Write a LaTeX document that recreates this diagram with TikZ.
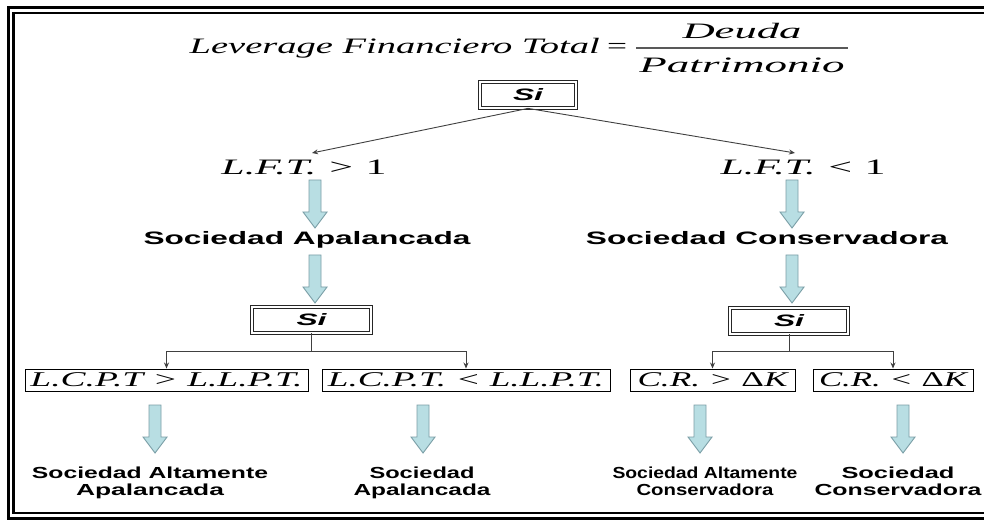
\documentclass[tikz,border=0pt]{standalone}
\usepackage{fontspec}
\usepackage{graphicx}
\setmainfont{Liberation Serif}
\setsansfont{Liberation Sans}
\usetikzlibrary{arrows.meta}
\newdimen\pxu \pxu=0.75pt
\newcommand\hw[2]{\resizebox{#1\pxu}{\height}{#2}}
\definecolor{arrowfill}{HTML}{B8DEE3}
\definecolor{arrowline}{HTML}{7A9EA6}
\newcommand\blockarr[3]{\draw[blockarrow] (#1-6,#2) -- (#1+6,#2) -- (#1+6,#3-16) -- (#1+12,#3-16) -- (#1,#3) -- (#1-12,#3-16) -- (#1-6,#3-16) -- cycle;}
\tikzset{
  serif/.style={font=\fontsize{16.5pt}{18pt}\selectfont\itshape, inner sep=0pt},
  sanstxt/.style={font=\fontsize{13.5pt}{15pt}\selectfont\sffamily\bfseries, inner sep=0pt},
  bottomtxt/.style={font=\fontsize{12pt}{12.75pt}\selectfont\sffamily\bfseries, inner sep=0pt, align=center},
  sibox/.style={draw=black!85, double, double distance=1.5pt, line width=0.6pt, minimum width=#1, minimum height=19.5pt, inner sep=0pt, font=\fontsize{12.4pt}{14pt}\selectfont\sffamily\bfseries\itshape},
  condbox/.style={draw, line width=0.7pt, minimum height=16.5pt, inner sep=0pt, font=\fontsize{15.75pt}{17pt}\selectfont\itshape},
  conn/.style={draw=black!75, line width=0.675pt, -{Stealth[length=4.5pt,width=3.75pt]}},
  plainline/.style={draw=black!75, line width=0.675pt},
  blockarrow/.style={fill=arrowfill, draw=arrowline, line width=0.675pt},
  fracline/.style={draw=black!65, line width=0.825pt}
}
\begin{document}
\begin{tikzpicture}[x=0.75pt, y=-0.75pt]
\useasboundingbox (0,0) rectangle (984,523);
\clip (0,0) rectangle (984,523);
\fill[white] (0,0) rectangle (984,523);
% frame
\draw[line width=2.625pt] (1000,7.5) -- (8.5,7.5) -- (8.5,518.5) -- (1000,518.5);
\draw[line width=1.65pt] (1000,13) -- (13.5,13) -- (13.5,513) -- (1000,513);
% formula
\node[serif, anchor=base east] (lft) at (600,54) {\hw{410}{Leverage Financiero Total}};
\node[serif, anchor=base] (eq) at (617,54) {\hw{20}{\upshape =}};
\coordinate (fl) at (636,48);
\coordinate (fr) at (848,48);
\draw[fracline] (fl) -- (fr);
\node[serif, anchor=base] (num) at (742,39) {\hw{119}{Deuda}};
\node[serif, anchor=base] (den) at (742,73) {\hw{205}{Patrimonio}};
% top Si
\node[sibox=72pt] (si0) at (528,95) {\hw{30}{Si}};
\coordinate (t1) at (312,153);
\coordinate (t2) at (795,153);
\draw[conn] (si0.south) -- (t1);
\draw[conn] (si0.south) -- (t2);
\node[serif, anchor=base] (lft1) at (304,175) {\hw{165}{L.F.T. > {\upshape 1}}};
\node[serif, anchor=base] (lft2) at (803,175) {\hw{165}{L.F.T. < {\upshape 1}}};
\blockarr{315}{180}{228}
\blockarr{792}{180}{228}
\node[sanstxt, anchor=base] (sa) at (307,245) {\hw{327}{Sociedad Apalancada}};
\node[sanstxt, anchor=base] (sc) at (767,245) {\hw{362}{Sociedad Conservadora}};
\blockarr{315}{255}{303}
\blockarr{792}{255}{303}
% second Si boxes
\node[sibox=89.25pt] (si1) at (311.5,320) {\hw{30}{Si}};
\node[sibox=88.5pt] (si2) at (789,321) {\hw{30}{Si}};
% condition boxes
\node[condbox, minimum width=212.25pt] (c1) at (166.5,380) {\hw{272}{L.C.P.T > L.L.P.T.}};
\node[condbox, minimum width=216pt] (c2) at (466,380) {\hw{276}{L.C.P.T. < L.L.P.T.}};
\node[condbox, minimum width=123.75pt] (c3) at (712.5,380) {\hw{150}{C.R. > {\upshape Δ}K}};
\node[condbox, minimum width=120pt] (c4) at (893,380) {\hw{148}{C.R. < {\upshape Δ}K}};
\coordinate (j1) at (311.5,351);
\coordinate (j2) at (789,351);
\draw[plainline] (si1.south) -- (j1);
\draw[conn] (j1) -| (c1.north);
\draw[conn] (j1) -| (c2.north);
\draw[plainline] (si2.south) -- (j2);
\draw[conn] (j2) -| (c3.north);
\draw[conn] (j2) -| (c4.north);
% bottom arrows
\blockarr{155}{405}{453}
\blockarr{423}{405}{453}
\blockarr{700}{405}{453}
\blockarr{903}{405}{453}
% bottom texts
\node[bottomtxt, anchor=north] (r1) at (150,467) {\hw{236}{Sociedad Altamente}\\\hw{148}{Apalancada}};
\node[bottomtxt, anchor=north] (r2) at (422,467) {\hw{105}{Sociedad}\\\hw{137}{Apalancada}};
\node[bottomtxt, anchor=north] (r3) at (705,467) {\hw{185}{Sociedad Altamente}\\\hw{137}{Conservadora}};
\node[bottomtxt, anchor=north] (r4) at (898,467) {\hw{113}{Sociedad}\\\hw{167}{Conservadora}};
\end{tikzpicture}
\end{document}
